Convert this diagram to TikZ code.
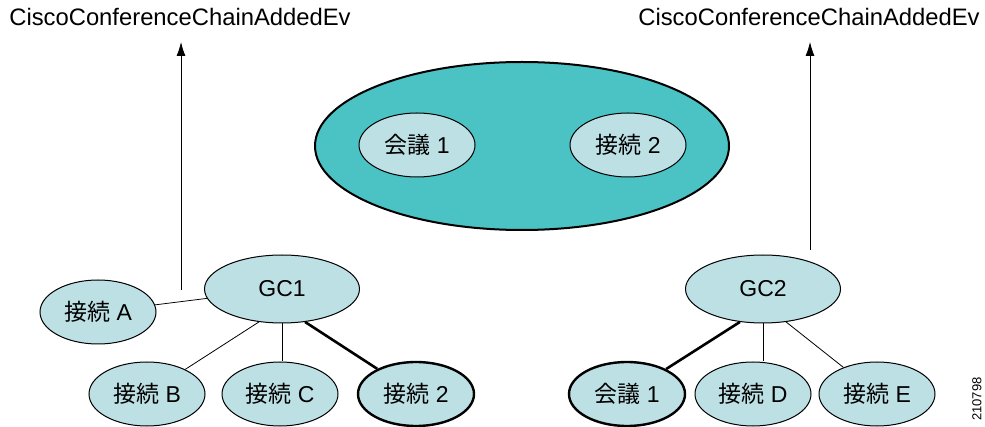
\documentclass[tikz,border=0pt]{standalone}
\usepackage{fontspec}
\setmainfont{Liberation Sans}
\newfontfamily\jpfont{Noto Sans CJK JP}
\usetikzlibrary{shapes.geometric,arrows.meta}
\definecolor{calltealc}{HTML}{4BC3C5}
\definecolor{callpale}{HTML}{BDE0E5}

\begin{document}
\begin{tikzpicture}[x=1pt, y=-1pt,
    conn/.style={ellipse, draw, line width=1pt, fill=callpale, inner sep=0pt,
        minimum width=116pt, minimum height=64pt, font=\fontsize{23}{27}\selectfont},
    connbold/.style={conn, line width=2.4pt},
    gcall/.style={conn, minimum width=155pt, minimum height=68pt},
    evlabel/.style={font=\fontsize{23.8}{28}\selectfont, inner sep=0pt},
    thinline/.style={line width=0.8pt},
    boldline/.style={line width=2.6pt}]
\useasboundingbox (0,0) rectangle (985,427);
% conference chain
    \node[ellipse, draw, line width=2pt, fill=calltealc, inner sep=0pt,
        minimum width=414pt, minimum height=168pt] (chain) at (522,146) {};
    \node[conn] (chconf) at (417,145) {{\jpfont 会議} 1};
    \node[conn] (chconn) at (628,145) {{\jpfont 接続} 2};
% first call
    \node[gcall] (gc1) at (282,289) {GC1};
    \node[conn] (conA) at (98,312) {{\jpfont 接続} A};
    \node[conn] (conB) at (147,394) {{\jpfont 接続} B};
    \node[conn] (conC) at (280,394) {{\jpfont 接続} C};
    \node[connbold] (con2) at (416,394) {{\jpfont 接続} 2};
% second call
    \node[gcall] (gc2) at (763,289) {GC2};
    \node[connbold] (conf1) at (627,394) {{\jpfont 会議} 1};
    \node[conn] (conD) at (753,394) {{\jpfont 接続} D};
    \node[conn] (conE) at (877,394) {{\jpfont 接続} E};
% call legs
    \draw[thinline] (gc1) -- (conA);
    \draw[thinline] (gc1.235) -- (conB);
    \draw[thinline] (gc1.south) -- (gc1.south |- conC.north);
    \draw[boldline] (gc1.305) -- (con2);
    \draw[boldline] (gc2.235) -- (conf1);
    \draw[thinline] (gc2.south) -- (gc2.south |- conD.north);
    \draw[thinline] (gc2.305) -- (conE);
% events
    \node[evlabel] (ev1) at (180,17) {CiscoConferenceChainAddedEv};
    \node[evlabel] (ev2) at (809,17) {CiscoConferenceChainAddedEv};
    \coordinate (ev1tip) at (181,42);
    \coordinate (ev1foot) at (181,290);
    \coordinate (ev2tip) at (810,42);
    \coordinate (ev2foot) at (810,250);
    \draw[thinline, -{Latex[length=14pt, width=9pt]}] (ev1foot) -- (ev1tip);
    \draw[thinline, -{Latex[length=14pt, width=9pt]}] (ev2foot) -- (ev2tip);
% figure number
    \node[rotate=90, font=\fontsize{13}{15}\selectfont, inner sep=0pt] (fignum) at (977,399) {210798};
\end{tikzpicture}
\end{document}
